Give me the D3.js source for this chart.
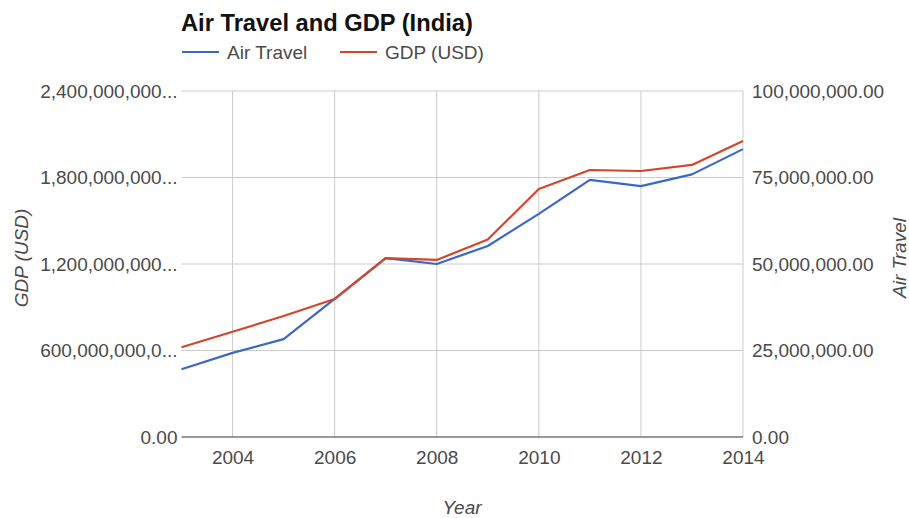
<!DOCTYPE html>
<html>
<head>
<meta charset="utf-8">
<script src="https://cdn.jsdelivr.net/npm/d3@7"></script>
<style>
  html, body { margin: 0; padding: 0; background: #fff; }
  svg { display: block; font-family: "Liberation Sans", Arial, sans-serif; }
</style>
</head>
<body>
<svg id="chart" width="909" height="518"></svg>
<script>
// ---- data ----
const years = [2003, 2004, 2005, 2006, 2007, 2008, 2009, 2010, 2011, 2012, 2013, 2014];
const airTravel = [19.6e6, 24.3e6, 28.3e6, 39.9e6, 51.7e6, 50.0e6, 55.2e6, 64.5e6, 74.3e6, 72.5e6, 75.9e6, 83.2e6];
const gdp = [623e6, 730e6, 839e6, 957e6, 1241e6, 1228e6, 1370e6, 1720e6, 1852e6, 1845e6, 1887e6, 2053e6];
const seriesNames = ["Air Travel", "GDP (USD)"];
const leftTicks = [0, 600e6, 1200e6, 1800e6, 2400e6];
const leftTickLabels = ["0.00", "600,000,000,0...", "1,200,000,000...", "1,800,000,000...", "2,400,000,000..."];
const rightTicks = [0, 25e6, 50e6, 75e6, 100e6];
const rightTickLabels = ["0.00", "25,000,000.00", "50,000,000.00", "75,000,000.00", "100,000,000.00"];
const xTicks = [2004, 2006, 2008, 2010, 2012, 2014];
const title = "Air Travel and GDP (India)";
const xTitle = "Year", leftTitle = "GDP (USD)", rightTitle = "Air Travel";

// ---- layout ----
const L = 181.5, R = 743, T = 91, B = 437;
const blue = "#3d67c5", red = "#d2462b", textCol = "#4a4a4a";
const svg = d3.select("#chart");

const x = d3.scaleLinear().domain([2003, 2014]).range([L, R]);
const yL = d3.scaleLinear().domain([0, 2400e6]).range([B, T]);
const yR = d3.scaleLinear().domain([0, 100e6]).range([B, T]);

// gridlines
svg.append("g").selectAll("line.h").data(leftTicks.slice(1)).join("line")
  .attr("x1", L).attr("x2", R).attr("y1", d => yL(d)).attr("y2", d => yL(d))
  .attr("stroke", "#cccccc").attr("stroke-width", 1);
svg.append("g").selectAll("line.v").data(xTicks).join("line")
  .attr("x1", d => x(d)).attr("x2", d => x(d)).attr("y1", T).attr("y2", B)
  .attr("stroke", "#cccccc").attr("stroke-width", 1);

// baseline
svg.append("line").attr("x1", L).attr("x2", R).attr("y1", yL(0)).attr("y2", yL(0))
  .attr("stroke", "#333").attr("stroke-width", 1.2);

// axes (labels only)
const fs = 19;
const axL = d3.axisLeft(yL).tickValues(leftTicks).tickSize(0).tickPadding(4)
  .tickFormat((d, i) => leftTickLabels[i]);
const gL = svg.append("g").attr("transform", `translate(${L},0)`).call(axL);
const axR = d3.axisRight(yR).tickValues(rightTicks).tickSize(0).tickPadding(9)
  .tickFormat((d, i) => rightTickLabels[i]);
const gR = svg.append("g").attr("transform", `translate(${R},0)`).call(axR);
const axB = d3.axisBottom(x).tickValues(xTicks).tickSize(0).tickPadding(14)
  .tickFormat(d3.format("d"));
const gB = svg.append("g").attr("transform", `translate(0,${B})`).call(axB);
[gL, gR, gB].forEach(g => {
  g.select(".domain").remove();
  g.selectAll("text").attr("fill", textCol).style("font-size", fs + "px")
    .style("font-family", '"Liberation Sans", Arial, sans-serif');
});

// lines
const lineAir = d3.line().x((d, i) => x(years[i])).y(d => yR(d));
const lineGdp = d3.line().x((d, i) => x(years[i])).y(d => yL(d));
svg.append("path").datum(airTravel).attr("d", lineAir)
  .attr("fill", "none").attr("stroke", blue).attr("stroke-width", 2.2).attr("stroke-linejoin", "round");
svg.append("path").datum(gdp).attr("d", lineGdp)
  .attr("fill", "none").attr("stroke", red).attr("stroke-width", 2.2).attr("stroke-linejoin", "round");

// title
svg.append("text").attr("x", 181).attr("y", 31).text(title)
  .style("font-size", "23.7px").style("font-weight", "bold").attr("fill", "#111");

// legend
const leg = [{ name: seriesNames[0], c: blue, x: 182 }, { name: seriesNames[1], c: red, x: 340 }];
leg.forEach(l => {
  svg.append("line").attr("x1", l.x).attr("x2", l.x + 37).attr("y1", 52).attr("y2", 52)
    .attr("stroke", l.c).attr("stroke-width", 2.2);
  svg.append("text").attr("x", l.x + 45).attr("y", 59).text(l.name)
    .style("font-size", fs + "px").attr("fill", textCol);
});

// axis titles
svg.append("text").attr("x", 462).attr("y", 514).attr("text-anchor", "middle")
  .style("font-size", fs + "px").style("font-style", "italic").attr("fill", textCol).text(xTitle);
svg.append("text").attr("transform", "translate(28,258) rotate(-90)").attr("text-anchor", "middle")
  .style("font-size", fs + "px").style("font-style", "italic").attr("fill", textCol).text(leftTitle);
svg.append("text").attr("transform", "translate(906,258) rotate(-90)").attr("text-anchor", "middle")
  .style("font-size", fs + "px").style("font-style", "italic").attr("fill", textCol).text(rightTitle);
</script>
</body>
</html>
